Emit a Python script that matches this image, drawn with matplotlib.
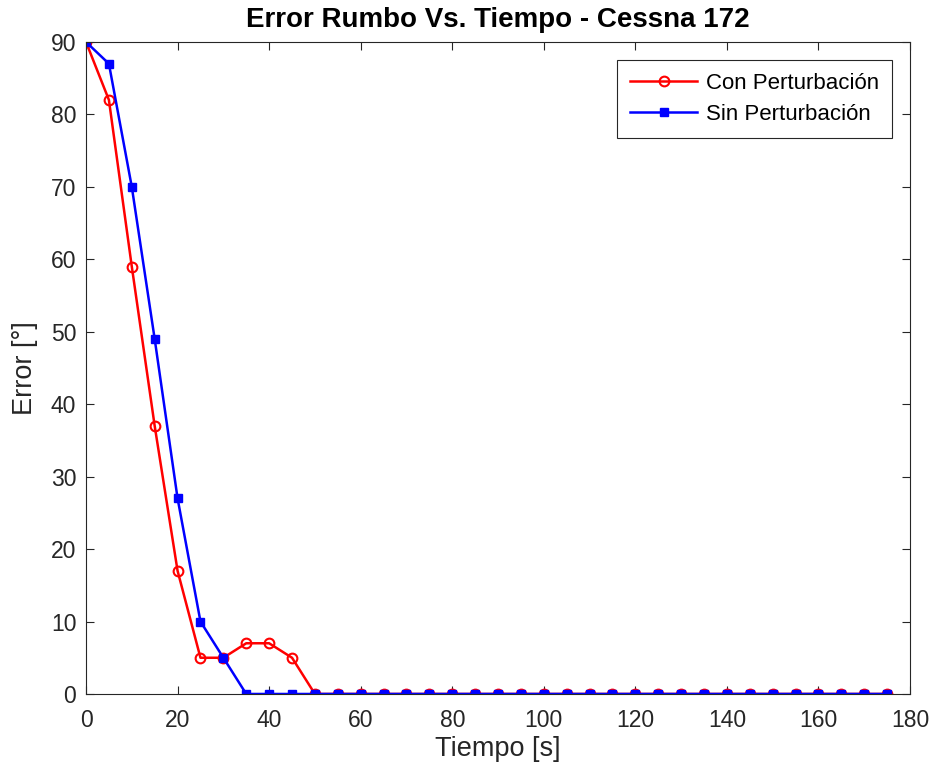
import numpy as np
import matplotlib.pyplot as plt

# Tiempo en segundos (cada 5 s)
tiempo = np.arange(0, 180, 5)

# Error de rumbo en grados
con_perturbacion = [90, 82, 59, 37, 17, 5, 5, 7, 7, 5] + [0] * 26
sin_perturbacion = [90, 87, 70, 49, 27, 10, 5, 0, 0, 0] + [0] * 26

plt.rcParams['font.family'] = ['Arial', 'Liberation Sans', 'DejaVu Sans']

fig = plt.figure(figsize=(9.38, 7.76), dpi=100)
ax = fig.add_axes([0.0917, 0.1057, 0.8785, 0.8402])

ax.plot(tiempo, con_perturbacion, color='red', marker='o', markersize=7,
        markerfacecolor='none', markeredgewidth=1.5, linewidth=1.8,
        label='Con Perturbación')
ax.plot(tiempo, sin_perturbacion, color='blue', marker='s', markersize=5.5,
        linewidth=1.8, label='Sin Perturbación')

ax.set_xlim(0, 180)
ax.set_ylim(0, 90)
ax.set_xticks(np.arange(0, 181, 20))
ax.set_yticks(np.arange(0, 91, 10))
ax.tick_params(direction='in', top=True, right=True, labelsize=16.5,
               colors='#262626', length=6, width=0.8)
ax.tick_params(axis='x', pad=11)
ax.tick_params(axis='y', pad=7)
for s in ax.spines.values():
    s.set_color('#262626')
    s.set_linewidth(0.8)

ax.set_xlabel('Tiempo [s]', fontsize=19.5, color='#262626', labelpad=3)
ax.set_ylabel('Error [°]', fontsize=19.5, color='#262626', labelpad=9)
ax.set_title('Error Rumbo Vs. Tiempo - Cessna 172', fontsize=20,
             fontweight='bold', pad=11)

leg = ax.legend(loc='upper right', fontsize=16, fancybox=False,
                edgecolor='#262626', framealpha=1, handlelength=3.0,
                borderaxespad=0.8, labelspacing=0.45, borderpad=0.6,
                handletextpad=0.4)
leg.get_frame().set_linewidth(0.8)

fig.savefig('out.png', dpi=100)
